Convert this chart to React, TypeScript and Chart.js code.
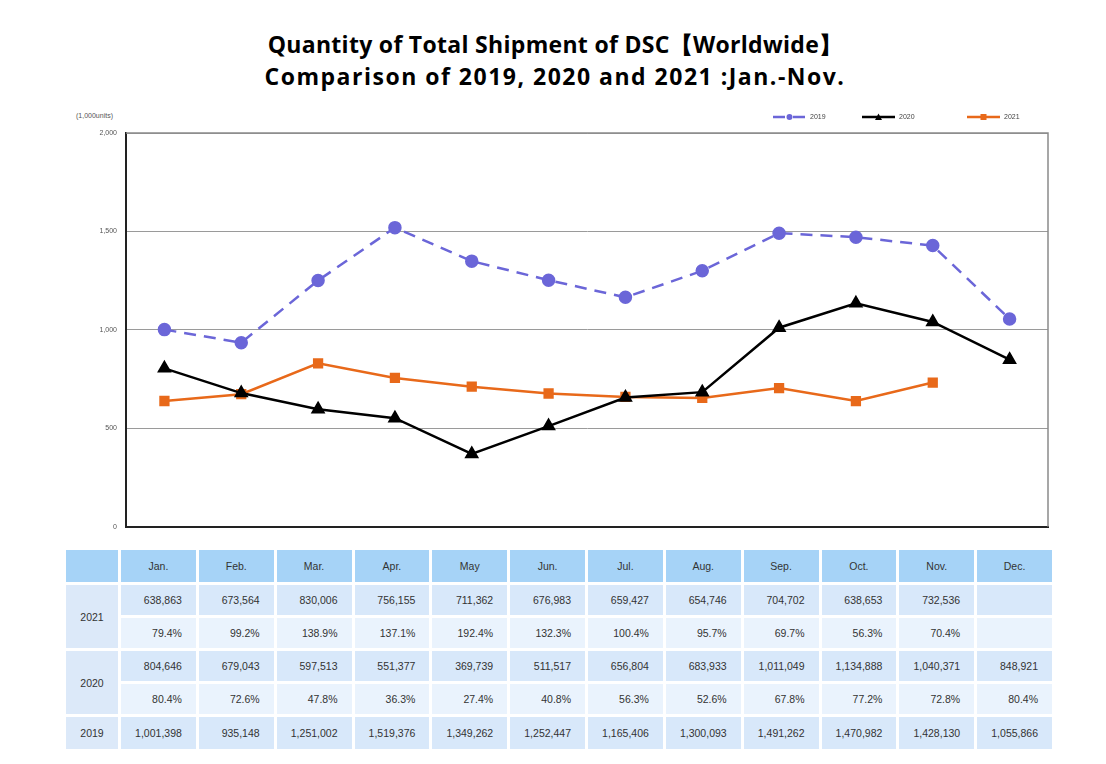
import React, { useEffect, useRef } from "react";
import { Chart, registerables } from "chart.js";

Chart.register(...registerables);

const months = ["Jan.", "Feb.", "Mar.", "Apr.", "May", "Jun.", "Jul.", "Aug.", "Sep.", "Oct.", "Nov.", "Dec."];
const years = ["2019", "2020", "2021"];
const values2019 = [1001398, 935148, 1251002, 1519376, 1349262, 1252447, 1165406, 1300093, 1491262, 1470982, 1428130, 1055866];
const values2020 = [804646, 679043, 597513, 551377, 369739, 511517, 656804, 683933, 1011049, 1134888, 1040371, 848921];
const values2021 = [638863, 673564, 830006, 756155, 711362, 676983, 659427, 654746, 704702, 638653, 732536, null];
const pct2021 = ["79.4%", "99.2%", "138.9%", "137.1%", "192.4%", "132.3%", "100.4%", "95.7%", "69.7%", "56.3%", "70.4%", ""];
const pct2020 = ["80.4%", "72.6%", "47.8%", "36.3%", "27.4%", "40.8%", "56.3%", "52.6%", "67.8%", "77.2%", "72.8%", "80.4%"];
const yTicks = [0, 500000, 1000000, 1500000, 2000000];

const PURPLE = "#6b66d8";
const ORANGE = "#e8691a";
const BLACK = "#000000";

const fmt = (v: number | null) => (v == null ? "" : v.toLocaleString("en-US"));

const framePlugin = {
  id: "frame",
  beforeDatasetsDraw(chart: any) {
    const { ctx, chartArea: a } = chart;
    ctx.save();
    ctx.strokeStyle = "#8a8a8a";
    ctx.lineWidth = 1.5;
    ctx.beginPath();
    ctx.moveTo(a.left, a.top);
    ctx.lineTo(a.right, a.top);
    ctx.lineTo(a.right, a.bottom);
    ctx.stroke();
    ctx.restore();
  },
  afterDraw(chart: any) {
    const { ctx } = chart;
    const items = chart.data.datasets.map((d: any, i: number) => ({ d, x: [713, 802, 907][i] }));
    ctx.save();
    const y = 17;
    items.forEach(({ d, x }: any) => {
      ctx.strokeStyle = d.borderColor;
      ctx.lineWidth = 2.5;
      ctx.setLineDash(d.borderDash || []);
      ctx.beginPath();
      ctx.moveTo(x, y);
      ctx.lineTo(x + 33, y);
      ctx.stroke();
      ctx.setLineDash([]);
      ctx.fillStyle = d.pointBackgroundColor;
      const cx = x + 16.5;
      ctx.beginPath();
      if (d.pointStyle === "rect") ctx.rect(cx - 3, y - 3, 6, 6);
      else if (d.pointStyle === "triangle") { ctx.moveTo(cx, y - 3.5); ctx.lineTo(cx + 3.5, y + 3); ctx.lineTo(cx - 3.5, y + 3); ctx.closePath(); }
      else ctx.arc(cx, y, 3, 0, Math.PI * 2);
      ctx.fill();
      ctx.fillStyle = "#444";
      ctx.font = "7px 'Liberation Sans', Arial, sans-serif";
      ctx.textBaseline = "middle";
      ctx.fillText(d.label, x + 37, y);
    });
    ctx.restore();
  },
};

function LineChart() {
  const ref = useRef<HTMLCanvasElement>(null);
  useEffect(() => {
    if (!ref.current) return;
    const chart = new Chart(ref.current, {
      type: "line",
      data: {
        labels: months,
        datasets: [
          {
            label: years[0], data: values2019, borderColor: PURPLE, backgroundColor: PURPLE,
            pointBackgroundColor: PURPLE, pointBorderColor: PURPLE, borderWidth: 2.5,
            borderDash: [12, 8], pointStyle: "circle", pointRadius: 5.5, tension: 0,
          },
          {
            label: years[1], data: values2020, borderColor: BLACK, backgroundColor: BLACK,
            pointBackgroundColor: BLACK, pointBorderColor: BLACK, borderWidth: 2.5,
            pointStyle: "triangle", pointRadius: 6, tension: 0,
          },
          {
            label: years[2], data: values2021, borderColor: ORANGE, backgroundColor: ORANGE,
            pointBackgroundColor: ORANGE, pointBorderColor: ORANGE, borderWidth: 2.5,
            pointStyle: "rect", pointRadius: 5.5, tension: 0,
          },
        ] as any,
      },
      options: {
        animation: false,
        responsive: false,
        maintainAspectRatio: false,
        layout: { padding: { top: 33, right: 12, bottom: 13, left: 0 } },
        plugins: { legend: { display: false }, tooltip: { enabled: false }, title: { display: false } },
        scales: {
          x: {
            type: "category",
            offset: true,
            grid: { display: false },
            border: { display: true, color: "#222", width: 2 },
            ticks: { display: false },
            afterFit: (s: any) => { s.height = 0; },
          },
          y: {
            min: 0,
            max: 2000000,
            afterBuildTicks: (s: any) => { s.ticks = yTicks.map((v) => ({ value: v })); },
            grid: { color: "#9a9a9a", lineWidth: 1, drawTicks: false },
            border: { display: true, color: "#222", width: 2 },
            ticks: {
              padding: 9,
              color: "#555",
              font: { size: 7, family: "'Liberation Sans', Arial, sans-serif" },
              callback: (v: any) => (Number(v) / 1000).toLocaleString("en-US"),
            },
            afterFit: (s: any) => { s.width = 66; },
          },
        },
      } as any,
      plugins: [framePlugin],
    });
    return () => chart.destroy();
  }, []);
  return <canvas ref={ref} width={1000} height={440} style={{ position: "absolute", left: 60, top: 100, width: 1000, height: 440 }} />;
}

const HEAD = "#a6d3f7";
const ROW_A = "#d8e8fa";
const ROW_B = "#eaf3fd";
const YEAR = "#dce9f9";

function Cell({ children, bg, align = "right", row, col, rowSpan = 1 }: any) {
  return (
    <div
      style={{
        gridRow: `${row} / span ${rowSpan}`,
        gridColumn: col,
        background: bg,
        display: "flex",
        alignItems: "center",
        justifyContent: align === "center" ? "center" : "flex-end",
        paddingRight: align === "center" ? 0 : 14,
        fontSize: 10.5,
        color: "#333",
      }}
    >
      {children}
    </div>
  );
}

function DataTable() {
  const cells: any[] = [];
  cells.push(<Cell key="h0" bg={HEAD} row={1} col={1} align="center" />);
  months.forEach((m, i) => cells.push(<Cell key={"h" + m} bg={HEAD} row={1} col={i + 2} align="center">{m}</Cell>));
  const groups = [
    { year: years[2], vals: values2021, pct: pct2021, row: 2 },
    { year: years[1], vals: values2020, pct: pct2020, row: 4 },
  ];
  groups.forEach((g) => {
    cells.push(<Cell key={"y" + g.year} bg={YEAR} row={g.row} rowSpan={2} col={1} align="center">{g.year}</Cell>);
    g.vals.forEach((v, i) => cells.push(<Cell key={g.year + "v" + i} bg={ROW_A} row={g.row} col={i + 2}>{fmt(v)}</Cell>));
    g.pct.forEach((p, i) => cells.push(<Cell key={g.year + "p" + i} bg={ROW_B} row={g.row + 1} col={i + 2}>{p}</Cell>));
  });
  cells.push(<Cell key="y2019" bg={YEAR} row={6} col={1} align="center">{years[0]}</Cell>);
  values2019.forEach((v, i) => cells.push(<Cell key={"2019v" + i} bg={ROW_A} row={6} col={i + 2}>{fmt(v)}</Cell>));
  return (
    <div
      style={{
        position: "absolute",
        left: 66,
        top: 550,
        width: 986,
        display: "grid",
        gridTemplateColumns: "52px repeat(12, 1fr)",
        gridTemplateRows: "32px 30px 30px 30px 30px 32px",
        columnGap: 3,
        rowGap: 3,
        fontFamily: "'Liberation Sans', Arial, sans-serif",
      }}
    >
      {cells}
    </div>
  );
}

export default function App() {
  return (
    <div style={{ position: "absolute", left: 0, top: 0, width: 1106, height: 764, background: "#fff", overflow: "hidden" }}>
      <div
        style={{
          position: "absolute",
          left: 0,
          top: 28,
          width: 1110,
          textAlign: "center",
          fontFamily: "'Open Sans', 'Noto Sans', sans-serif",
          fontWeight: 700,
          fontSize: 23,
          lineHeight: "32px",
          color: "#000",
        }}
      >
        <div style={{ letterSpacing: 0.3 }}>Quantity of Total Shipment of DSC【Worldwide】</div>
        <div style={{ letterSpacing: 1.5 }}>Comparison of 2019, 2020 and 2021 :Jan.-Nov.</div>
      </div>
      <div style={{ position: "absolute", left: 76, top: 112, fontSize: 7, color: "#555", fontFamily: "'Liberation Sans', Arial, sans-serif" }}>
        (1,000units)
      </div>
      <LineChart />
      <DataTable />
    </div>
  );
}
